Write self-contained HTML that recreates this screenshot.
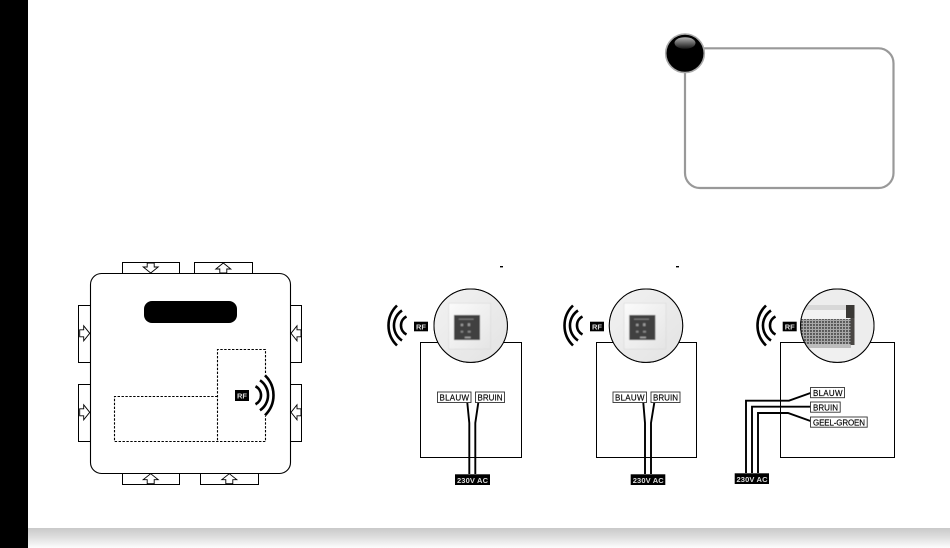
<!DOCTYPE html>
<html>
<head>
<meta charset="utf-8">
<style>
html,body{margin:0;padding:0;background:#fff;width:950px;height:548px;overflow:hidden}
svg{display:block}
text{font-family:"Liberation Sans",sans-serif}
</style>
</head>
<body>
<svg width="950" height="548" viewBox="0 0 950 548" xmlns="http://www.w3.org/2000/svg">
<defs>
<linearGradient id="band" x1="0" y1="0" x2="0" y2="1">
<stop offset="0" stop-color="#c9c9c9"/><stop offset="0.45" stop-color="#dedede"/><stop offset="1" stop-color="#fdfdfd"/>
</linearGradient>
<linearGradient id="gloss" x1="0" y1="0" x2="0" y2="1">
<stop offset="0" stop-color="#b5b5b5"/><stop offset="1" stop-color="#151515"/>
</linearGradient>
<linearGradient id="bgp" x1="0" y1="0" x2="1" y2="1">
<stop offset="0" stop-color="#f3f3f3"/><stop offset="1" stop-color="#e2e2e2"/>
</linearGradient>
<linearGradient id="plate" x1="0" y1="0" x2="1" y2="1">
<stop offset="0" stop-color="#fbfbfb"/><stop offset="1" stop-color="#e4e4e4"/>
</linearGradient>
<pattern id="perf" width="3" height="3" patternUnits="userSpaceOnUse">
<rect width="3" height="3" fill="#a8a8a8"/><circle cx="1" cy="1" r="1.05" fill="#4c4c4c"/>
</pattern>
<filter id="soft" x="-10%" y="-10%" width="120%" height="120%"><feGaussianBlur stdDeviation="0.6"/></filter>
<clipPath id="c1"><circle cx="470.7" cy="325.7" r="36.5"/></clipPath>
<clipPath id="c2"><circle cx="646" cy="325.7" r="36.5"/></clipPath>
<clipPath id="c3"><circle cx="837.3" cy="325.7" r="36.5"/></clipPath>
<g id="waves" fill="none" stroke="#000" stroke-width="2.6">
<path d="M0-20A27.8 27.8 0 0 1 0 20"/>
<path d="M-5-15A18 18 0 0 1-5 15"/>
<path d="M-9.5-9A10.1 10.1 0 0 1-9.5 9"/>
</g>
<polygon id="ar" points="0,-5 7.5,1 3.5,1 3.5,5 -3.5,5 -3.5,1 -7.5,1" fill="#fff" stroke="#000" stroke-width="0.9"/>
<g id="panel" filter="url(#soft)">
<rect x="-22" y="-22.5" width="42" height="46" fill="url(#plate)" stroke="#d8d8d8" stroke-width="0.6"/>
<rect x="-16.7" y="-10.7" width="26" height="25" fill="#403f3f"/>
<rect x="-12" y="-7" width="15" height="1" fill="#888"/>
<rect x="-10" y="-2" width="2.5" height="2.5" fill="#999"/>
<rect x="-3" y="-2.5" width="2.5" height="3" fill="#999"/>
<rect x="-10" y="5" width="2.5" height="2" fill="#888"/>
<rect x="-3" y="5" width="3" height="2" fill="#888"/>
<rect x="-6" y="11" width="6" height="1.5" fill="#aaa"/>
</g>
</defs>

<rect width="950" height="548" fill="#fff"/>
<rect x="28" y="528" width="922" height="20" fill="url(#band)"/>
<rect x="0" y="0" width="28" height="548" fill="#000"/>

<!-- callout -->
<rect x="685" y="48.3" width="208.5" height="139.7" rx="15" fill="#fff" stroke="#999" stroke-width="2.2"/>
<circle cx="685" cy="53.3" r="19.3" fill="#000" stroke="#aaa" stroke-width="1.6"/>
<ellipse cx="685" cy="43" rx="10.5" ry="5.8" fill="url(#gloss)"/>

<!-- main unit tabs -->
<g fill="#fff" stroke="#000" stroke-width="1">
<rect x="122.5" y="262.5" width="57" height="14"/>
<rect x="194.5" y="262.5" width="58" height="14"/>
<rect x="122.5" y="470" width="57" height="14.5"/>
<rect x="200.5" y="470" width="58" height="14.5"/>
<rect x="78.5" y="305.5" width="15" height="57"/>
<rect x="78.5" y="384.5" width="15" height="57"/>
<rect x="287" y="305.5" width="14.5" height="57"/>
<rect x="287" y="384.5" width="14.5" height="57"/>
<rect x="90.5" y="273.5" width="200" height="200" rx="11" stroke-width="1.1"/>
</g>
<use href="#ar" transform="translate(150.7,268) rotate(180)"/>
<use href="#ar" transform="translate(223.3,268)"/>
<use href="#ar" transform="translate(150.7,478.7)"/>
<use href="#ar" transform="translate(229.3,478.7)"/>
<use href="#ar" transform="translate(84.7,333.3) rotate(90)"/>
<use href="#ar" transform="translate(84.7,412.3) rotate(90)"/>
<use href="#ar" transform="translate(296,333.3) rotate(-90)"/>
<use href="#ar" transform="translate(296,412.3) rotate(-90)"/>

<rect x="144" y="301" width="93" height="22" rx="8" fill="#000"/>

<!-- dashed -->
<g fill="none" stroke="#000" stroke-width="1.1" stroke-dasharray="2.4 1.5">
<path d="M217.5 396.5H114.5V441.5H265.5V416"/>
<path d="M265.5 373V349.5H217.5V441.5"/>
</g>
<use href="#waves" transform="translate(265,395.3)"/>
<rect x="235" y="390" width="14" height="11" fill="#000"/>
<text x="237" y="398.6" font-size="7.5" font-weight="bold" fill="#ddd" textLength="10" lengthAdjust="spacing">RF</text>

<!-- small dashes -->
<rect x="500" y="266" width="3" height="1.4" fill="#000"/>
<rect x="676" y="266" width="3" height="1.4" fill="#000"/>

<!-- diagram 1 -->
<rect x="420.5" y="342.5" width="101" height="115" fill="#fff" stroke="#000" stroke-width="1"/>
<g fill="none" stroke="#000" stroke-width="1.9">
<path d="M467.3 402.7L469.3 423V474"/>
<path d="M478.3 402.7L475.3 423V474"/>
</g>
<circle cx="470.7" cy="325.7" r="36.7" fill="#fff" stroke="#000" stroke-width="1"/>
<g clip-path="url(#c1)"><rect x="430" y="285" width="82" height="82" fill="url(#bgp)"/><use href="#panel" transform="translate(470.7,325.7)"/></g>
<circle cx="470.7" cy="325.7" r="36.7" fill="none" stroke="#000" stroke-width="1"/>
<use href="#waves" transform="translate(397,325.5) scale(-1,1)"/>
<rect x="414" y="321.7" width="14" height="9.6" fill="#000"/>
<text x="416" y="329.6" font-size="7.5" font-weight="bold" fill="#ddd" textLength="10" lengthAdjust="spacing">RF</text>
<g fill="#fff" stroke="#333" stroke-width="0.9">
<rect x="437.5" y="392" width="33.5" height="10.5"/>
<rect x="475.5" y="392" width="29" height="10.5"/>
</g>
<text x="439.5" y="400.5" font-size="8" textLength="29.5" lengthAdjust="spacing" fill="#000" stroke="#000" stroke-width="0.15">BLAUW</text>
<text x="477.5" y="400.5" font-size="8" textLength="25" lengthAdjust="spacing" fill="#000" stroke="#000" stroke-width="0.15">BRUIN</text>
<rect x="455" y="474.3" width="35" height="10.7" fill="#000"/>
<text x="457" y="482.8" font-size="7.5" font-weight="bold" fill="#ddd" textLength="31" lengthAdjust="spacing">230V AC</text>

<!-- diagram 2 -->
<rect x="596.5" y="342.5" width="100" height="115" fill="#fff" stroke="#000" stroke-width="1"/>
<g fill="none" stroke="#000" stroke-width="1.9">
<path d="M643.3 402.7L645 423V474"/>
<path d="M654.3 402.7L651 423V474"/>
</g>
<circle cx="646" cy="325.7" r="36.7" fill="#fff" stroke="#000" stroke-width="1"/>
<g clip-path="url(#c2)"><rect x="605" y="285" width="82" height="82" fill="url(#bgp)"/><use href="#panel" transform="translate(646,325.7)"/></g>
<circle cx="646" cy="325.7" r="36.7" fill="none" stroke="#000" stroke-width="1"/>
<use href="#waves" transform="translate(573,325.5) scale(-1,1)"/>
<rect x="590" y="321.7" width="14" height="9.6" fill="#000"/>
<text x="592" y="329.6" font-size="7.5" font-weight="bold" fill="#ddd" textLength="10" lengthAdjust="spacing">RF</text>
<g fill="#fff" stroke="#333" stroke-width="0.9">
<rect x="613" y="392" width="33.5" height="10.5"/>
<rect x="651" y="392" width="29" height="10.5"/>
</g>
<text x="615" y="400.5" font-size="8" textLength="29.5" lengthAdjust="spacing" fill="#000" stroke="#000" stroke-width="0.15">BLAUW</text>
<text x="653" y="400.5" font-size="8" textLength="25" lengthAdjust="spacing" fill="#000" stroke="#000" stroke-width="0.15">BRUIN</text>
<rect x="630.7" y="474.3" width="34.6" height="10.7" fill="#000"/>
<text x="632.7" y="482.8" font-size="7.5" font-weight="bold" fill="#ddd" textLength="31" lengthAdjust="spacing">230V AC</text>

<!-- diagram 3 -->
<rect x="780.5" y="342.5" width="114" height="115" fill="#fff" stroke="#000" stroke-width="1"/>
<g fill="none" stroke="#000" stroke-width="1.9">
<path d="M746 473V400.7H789L810.5 393"/>
<path d="M752 473V406.7H810.5"/>
<path d="M758 473V413H788L810.5 421"/>
</g>
<circle cx="837.3" cy="325.7" r="36.7" fill="#fff" stroke="#000" stroke-width="1"/>
<g clip-path="url(#c3)">
<rect x="797" y="285" width="82" height="82" fill="#ededed"/>
<rect x="797" y="305" width="52" height="5" fill="#d8d8d8"/>
<rect x="797" y="310" width="52" height="9" fill="#f2f2f2"/>
<rect x="797" y="319" width="54" height="25" fill="url(#perf)"/>
<rect x="797" y="344" width="54" height="4" fill="#bdbdbd"/>
<rect x="797" y="348" width="54" height="17" fill="#f0f0f0"/>
<rect x="846" y="305" width="8.5" height="13" fill="#3a3835"/>
<rect x="850.5" y="318" width="4" height="27" fill="#4a4744"/>
</g>
<circle cx="837.3" cy="325.7" r="36.7" fill="none" stroke="#000" stroke-width="1"/>
<use href="#waves" transform="translate(766,325.5) scale(-1,1)"/>
<rect x="782.7" y="321.7" width="14" height="9.6" fill="#000"/>
<text x="784.7" y="329.6" font-size="7.5" font-weight="bold" fill="#ddd" textLength="10" lengthAdjust="spacing">RF</text>
<g fill="#fff" stroke="#333" stroke-width="0.9">
<rect x="810.5" y="387.5" width="34" height="10.2"/>
<rect x="810.5" y="402" width="29.7" height="10.2"/>
<rect x="810.5" y="417" width="56.7" height="10.2"/>
</g>
<text x="813" y="395.8" font-size="8" textLength="29.5" lengthAdjust="spacing" fill="#000" stroke="#000" stroke-width="0.15">BLAUW</text>
<text x="813" y="410.3" font-size="8" textLength="25" lengthAdjust="spacing" fill="#000" stroke="#000" stroke-width="0.15">BRUIN</text>
<text x="813" y="425.3" font-size="8" textLength="52" lengthAdjust="spacing" fill="#000" stroke="#000" stroke-width="0.15">GEEL-GROEN</text>
<rect x="734.7" y="473.3" width="34.3" height="10.7" fill="#000"/>
<text x="736.5" y="481.8" font-size="7.5" font-weight="bold" fill="#ddd" textLength="31" lengthAdjust="spacing">230V AC</text>
</svg>
</body>
</html>
